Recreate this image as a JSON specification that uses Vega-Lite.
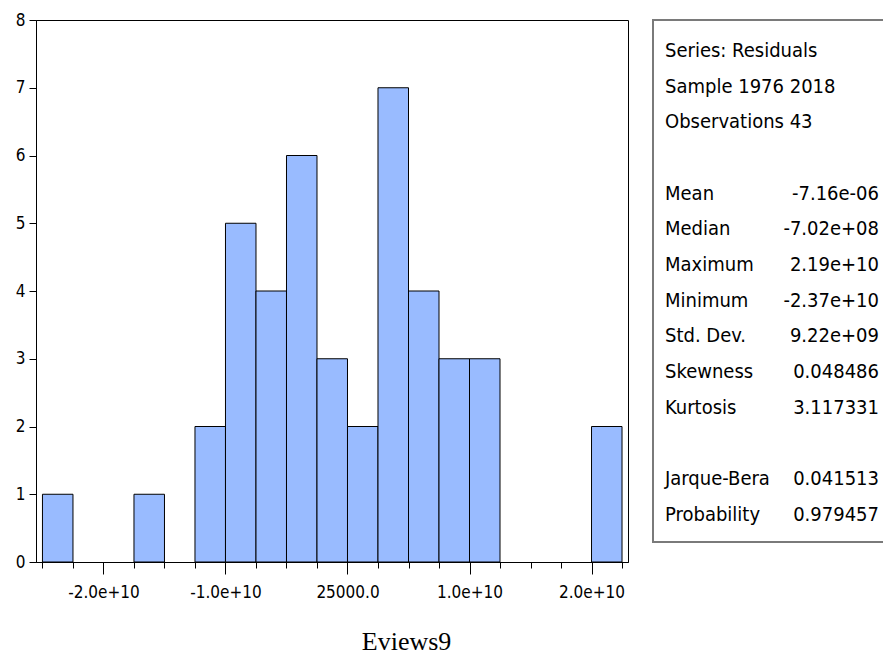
{
  "$schema": "https://vega.github.io/schema/vega-lite/v6.json",
  "background": "white",
  "padding": {"left": 14, "top": 10, "right": 0, "bottom": 0},
  "bounds": "flush",
  "spacing": 25,
  "config": {
    "font": "'Liberation Sans Narrow', 'DejaVu Sans Condensed', 'Liberation Sans', Arial, sans-serif",
    "view": {"stroke": "black", "strokeWidth": 1},
    "axis": {
      "labelFont": "'Liberation Sans Narrow', 'DejaVu Sans Condensed', 'Liberation Sans', Arial, sans-serif",
      "labelFontSize": 17,
      "labelColor": "black",
      "tickColor": "black",
      "domainColor": "black",
      "grid": false,
      "title": null
    }
  },
  "title": {
    "text": "Eviews9",
    "orient": "bottom",
    "anchor": "start",
    "dx": 347,
    "offset": 28,
    "font": "Liberation Serif",
    "fontSize": 26,
    "fontWeight": "normal",
    "color": "black"
  },
  "hconcat": [
    {
      "width": 592,
      "height": 542,
      "data": {
        "values": [
          {"bin_start": -25000000000, "bin_end": -22500000000, "count": 1},
          {"bin_start": -17500000000, "bin_end": -15000000000, "count": 1},
          {"bin_start": -12500000000, "bin_end": -10000000000, "count": 2},
          {"bin_start": -10000000000, "bin_end": -7500000000, "count": 5},
          {"bin_start": -7500000000, "bin_end": -5000000000, "count": 4},
          {"bin_start": -5000000000, "bin_end": -2500000000, "count": 6},
          {"bin_start": -2500000000, "bin_end": 0, "count": 3},
          {"bin_start": 0, "bin_end": 2500000000, "count": 2},
          {"bin_start": 2500000000, "bin_end": 5000000000, "count": 7},
          {"bin_start": 5000000000, "bin_end": 7500000000, "count": 4},
          {"bin_start": 7500000000, "bin_end": 10000000000, "count": 3},
          {"bin_start": 10000000000, "bin_end": 12500000000, "count": 3},
          {"bin_start": 20000000000, "bin_end": 22500000000, "count": 2}
        ]
      },
      "mark": {"type": "rect", "fill": "#99BBFF", "stroke": "black", "strokeWidth": 1},
      "encoding": {
        "x": {
          "field": "bin_start",
          "type": "quantitative",
          "scale": {"domain": [-25530000000, 22990000000], "nice": false, "zero": false},
          "axis": {
            "values": [-25000000000, -22500000000, -20000000000, -17500000000, -15000000000, -12500000000, -10000000000, -7500000000, -5000000000, -2500000000, 0, 2500000000, 5000000000, 7500000000, 10000000000, 12500000000, 15000000000, 17500000000, 20000000000, 22500000000],
            "tickSize": {"condition": {"test": "datum.value % 10000000000 === 0", "value": 12}, "value": 6},
            "labelExpr": "datum.value === 0 ? '25000.0' : datum.value === 10000000000 ? '1.0e+10' : datum.value === 20000000000 ? '2.0e+10' : datum.value === -10000000000 ? '-1.0e+10' : datum.value === -20000000000 ? '-2.0e+10' : ''",
            "labelPadding": 10,
            "labelOverlap": false,
            "labelFlush": false
          }
        },
        "x2": {"field": "bin_end"},
        "y": {
          "field": "count",
          "type": "quantitative",
          "scale": {"domain": [0, 8], "nice": false},
          "axis": {"values": [0, 1, 2, 3, 4, 5, 6, 7, 8], "tickSize": 7, "labelPadding": 4, "labelFlush": false}
        },
        "y2": {"datum": 0}
      }
    },
    {
      "width": 240,
      "height": 522,
      "view": {"stroke": "#7a7a7a", "strokeWidth": 2},
      "data": {
        "values": [
          {"line": 1, "name": "Series: Residuals", "value": ""},
          {"line": 2, "name": "Sample 1976 2018", "value": ""},
          {"line": 3, "name": "Observations 43", "value": ""},
          {"line": 5, "name": "Mean", "value": "-7.16e-06"},
          {"line": 6, "name": "Median", "value": "-7.02e+08"},
          {"line": 7, "name": "Maximum", "value": "2.19e+10"},
          {"line": 8, "name": "Minimum", "value": "-2.37e+10"},
          {"line": 9, "name": "Std. Dev.", "value": "9.22e+09"},
          {"line": 10, "name": "Skewness", "value": "0.048486"},
          {"line": 11, "name": "Kurtosis", "value": "3.117331"},
          {"line": 13, "name": "Jarque-Bera", "value": "0.041513"},
          {"line": 14, "name": "Probability", "value": "0.979457"}
        ]
      },
      "layer": [
        {
          "mark": {"type": "text", "align": "left", "baseline": "alphabetic", "fontSize": 20, "color": "black"},
          "encoding": {
            "x": {"datum": 0, "type": "quantitative", "scale": {"domain": [0, 1], "range": [12, 226]}, "axis": null},
            "y": {"field": "line", "type": "quantitative", "scale": {"domain": [-0.036, 14.59], "reverse": true, "nice": false, "zero": false}, "axis": null},
            "text": {"field": "name"}
          }
        },
        {
          "mark": {"type": "text", "align": "right", "baseline": "alphabetic", "fontSize": 20, "color": "black"},
          "encoding": {
            "x": {"datum": 1, "type": "quantitative"},
            "y": {"field": "line", "type": "quantitative"},
            "text": {"field": "value"}
          }
        }
      ]
    }
  ]
}
